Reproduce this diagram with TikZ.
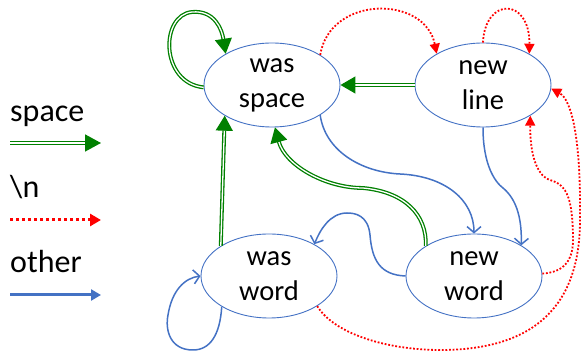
\documentclass[tikz,border=0pt]{standalone}
\usepackage{fontspec}
\setmainfont{Carlito}
\usetikzlibrary{arrows.meta,shapes.geometric}
\definecolor{grn}{RGB}{0,128,0}
\definecolor{rd}{RGB}{255,0,0}
\definecolor{bl}{RGB}{68,114,196}
\tikzset{
  stnode/.style={ellipse, draw=bl, line width=0.9pt, minimum width=136pt, minimum height=84pt, inner sep=0pt, align=center, font=\fontsize{28.5}{35}\selectfont},
  spedge/.style={draw=grn, line width=1.3pt, double=white, double distance=1.3pt, -{Triangle[length=15pt,width=17pt]}},
  nledge/.style={draw=rd, line width=1.8pt, dash pattern=on 1.8pt off 1.8pt, -{Triangle[length=10pt,width=10pt]}},
  otedge/.style={draw=bl, line width=1.5pt, -{Straight Barb[length=6pt,width=14pt,line width=1.5pt]}},
  legtext/.style={anchor=base west, inner sep=0pt, font=\fontsize{32}{38}\selectfont},
}
\begin{document}
\begin{tikzpicture}[x=1pt,y=-1pt]
\useasboundingbox (0,0) rectangle (582,352);
% states
\node[stnode] (ws) at (272,85) {was\\space};
\node[stnode] (nl) at (483,85) {new\\line};
\node[stnode] (nw) at (474,276) {new\\word};
\node[stnode] (ww) at (269,276) {was\\word};
% legend
\node[legtext] (lsp) at (10,122) {space};
\node[legtext] (lnl) at (10,198) {\textbackslash n};
\node[legtext] (lot) at (10,273) {other};
\coordinate (g1) at (10,143); \coordinate (g2) at (101,143);
\coordinate (r1) at (10,220); \coordinate (r2) at (101,220);
\coordinate (b1) at (10,295); \coordinate (b2) at (101,295);
\draw[spedge, line width=1.6pt, double distance=1.6pt, -{Triangle[length=16pt,width=17pt]}] (g1) -- (g2);
\draw[nledge, line width=3pt, dash pattern=on 3pt off 3pt, -{Triangle[length=11pt,width=12pt]}] (r1) -- (r2);
\draw[draw=bl, line width=3pt, -{Triangle[length=10pt,width=11pt]}] (b1) -- (b2);
% space edges
\draw[spedge] (ws.182) .. controls (160,83) and (160,15) .. (192,12) .. controls (215,10) and (222,30) .. (ws.146);
\draw[spedge] (nl.west) -- (ws.east);
\draw[spedge] (nw.148) .. controls (427,215) and (405,192) .. (363,188) .. controls (325,188) and (285,165) .. (ws.-86);
\draw[spedge] (ww.148) -- (ws.213);
% newline edges
\draw[nledge] (ws.32) .. controls (330,-5) and (425,-5) .. (nl.146);
\draw[nledge] (nl.90) .. controls (485,-3) and (530,-3) .. (nl.34);
\draw[nledge] (nw.2) .. controls (565,272) and (574,260) .. (573,235) .. controls (572,200) and (568,185) .. (550,180) .. controls (535,175) and (530,150) .. (nl.-33);
\draw[nledge] (ww.-32) .. controls (335,335) and (390,350) .. (440,350) .. controls (530,350) and (580,310) .. (580,220) .. controls (581,140) and (572,100) .. (nl.-3);
% other edges
\draw[otedge] (ws.-32) .. controls (325,150) and (360,172) .. (400,174) .. controls (445,176) and (474,200) .. (nw.90);
\draw[otedge] (nl.-90) .. controls (483,165) and (495,182) .. (503,188) .. controls (515,198) and (522,215) .. (nw.33);
\draw[otedge] (nw.180) .. controls (380,275) and (372,260) .. (370,235) .. controls (368,215) and (355,213) .. (347,213) .. controls (330,213) and (320,230) .. (ww.35);
\draw[otedge] (ww.213) .. controls (220,335) and (210,350) .. (193,350) .. controls (170,350) and (165,330) .. (168,315) .. controls (172,290) and (185,278) .. (ww.180);
\end{tikzpicture}
\end{document}
